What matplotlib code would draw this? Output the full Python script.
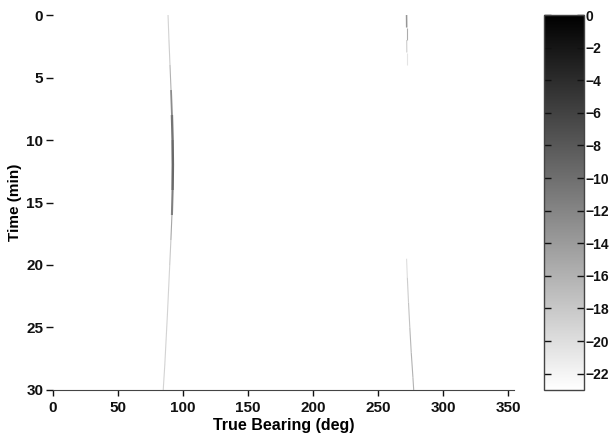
import numpy as np
import matplotlib.pyplot as plt
from matplotlib.collections import LineCollection
from matplotlib.colors import Normalize
from matplotlib.cm import ScalarMappable

plt.rcParams['font.family'] = ['Liberation Sans', 'DejaVu Sans']
plt.rcParams['font.weight'] = 'bold'

# track 1 (near 90 deg) - time (min), bearing (deg), level (dB)
trk1_time = [0, 2, 4, 6, 8, 10, 12, 14, 16, 18, 20, 22, 24, 26, 28, 30]
trk1_bearing = [88.5, 89.2, 90.0, 90.8, 91.5, 92.0, 92.2, 92.0, 91.5, 90.7, 89.8, 88.9, 88.0, 87.0, 86.0, 84.8]
trk1_level = [-19, -19, -18, -14, -11, -10, -9, -10, -13, -17, -19, -19, -19, -19, -19, -19]

# track 2 (near 270 deg), two visible pieces
trk2a_time = [0, 1, 2, 3, 4]
trk2a_bearing = [272.0, 272.1, 272.1, 272.2, 272.2]
trk2a_level = [-13, -14, -17, -20, -21]

trk2b_time = [19.5, 21, 23, 25, 27, 29, 30]
trk2b_bearing = [272.0, 272.6, 273.5, 274.5, 275.6, 276.9, 277.5]
trk2b_level = [-21, -19, -18, -17, -16, -16, -16]

cbar_ticks = [0, -2, -4, -6, -8, -10, -12, -14, -16, -18, -20, -22]
vmin, vmax = -23, 0

fig = plt.figure(figsize=(6.12, 4.37), dpi=100)
ax = fig.add_axes([0.0866, 0.1076, 0.754, 0.858])
cax = fig.add_axes([0.889, 0.1076, 0.065, 0.858])

norm = Normalize(vmin, vmax)
cmap = plt.get_cmap('gray_r')


def draw_track(t, b, lev, base_w=0.8):
    pts = np.array([b, t]).T.reshape(-1, 1, 2)
    segs = np.concatenate([pts[:-1], pts[1:]], axis=1)
    lev = np.asarray(lev, dtype=float)
    seg_lev = (lev[:-1] + lev[1:]) / 2
    # darker parts look a bit thicker
    widths = base_w + np.clip((seg_lev + 15) / 5, 0, 1.0)
    lc = LineCollection(segs, cmap=cmap, norm=norm, linewidths=widths)
    lc.set_array(seg_lev)
    ax.add_collection(lc)


draw_track(trk1_time, trk1_bearing, trk1_level)
draw_track(trk2a_time, trk2a_bearing, trk2a_level)
draw_track(trk2b_time, trk2b_bearing, trk2b_level)

ax.set_xlim(0, 355)
ax.set_ylim(30, 0)
ax.set_xticks(np.arange(0, 351, 50))
ax.set_yticks(np.arange(0, 31, 5))
for s in ['top', 'right', 'left']:
    ax.spines[s].set_visible(False)
ax.spines['bottom'].set_color('#444444')
ax.tick_params(axis='x', direction='out', length=4, width=1, pad=4, labelsize=11, colors='#111111')
ax.tick_params(axis='y', direction='out', length=5, width=1, pad=2, labelsize=11, colors='#111111')
ax.set_xlabel('True Bearing (deg)', fontsize=11.5, fontweight='bold', labelpad=2)
ax.set_ylabel('Time (min)', fontsize=11, fontweight='bold', labelpad=3)

sm = ScalarMappable(norm=norm, cmap=cmap)
cb = fig.colorbar(sm, cax=cax, ticks=cbar_ticks)
cb.outline.set_linewidth(1)
cb.outline.set_edgecolor('#444444')
cax.tick_params(direction='in', left=True, right=True, length=5, width=1, pad=1,
                labelsize=10, colors='#111111')
cax.yaxis.set_tick_params(labelleft=False, labelright=True)

fig.savefig('out.png', dpi=100)
